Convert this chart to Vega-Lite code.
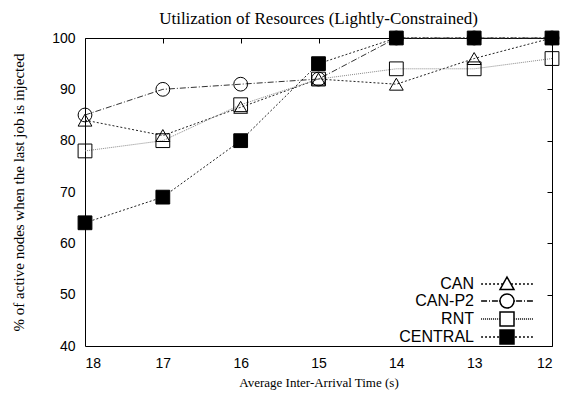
{
  "$schema": "https://vega.github.io/schema/vega-lite/v6.json",
  "width": 467,
  "height": 308,
  "autosize": "none",
  "padding": {"left": 85, "top": 38, "right": 14, "bottom": 50},
  "background": "white",
  "title": {"text": "Utilization of Resources (Lightly-Constrained)", "font": "Liberation Serif", "fontSize": 17, "fontWeight": "normal", "color": "black", "offset": 1},
  "config": {
    "view": {"stroke": "black", "strokeWidth": 1},
    "axis": {"grid": true, "gridColor": "black", "gridOpacity": 1, "gridWidth": 1, "gridDash": [5, 2000], "domain": false, "ticks": false, "labelFont": "Liberation Sans", "labelFontSize": 14, "labelColor": "black", "titleFont": "Liberation Serif", "titleFontSize": 13, "titleFontWeight": "normal", "titleColor": "black"}
  },
  "data": {"values": [
    {"x": 18, "v": 84, "s": "CAN"}, {"x": 17, "v": 81, "s": "CAN"}, {"x": 16, "v": 86.5, "s": "CAN"}, {"x": 15, "v": 92, "s": "CAN"}, {"x": 14, "v": 91, "s": "CAN"}, {"x": 13, "v": 96, "s": "CAN"}, {"x": 12, "v": 100, "s": "CAN"},
    {"x": 18, "v": 85, "s": "CAN-P2"}, {"x": 17, "v": 90, "s": "CAN-P2"}, {"x": 16, "v": 91, "s": "CAN-P2"}, {"x": 15, "v": 92, "s": "CAN-P2"}, {"x": 14, "v": 100, "s": "CAN-P2"}, {"x": 13, "v": 100, "s": "CAN-P2"}, {"x": 12, "v": 100, "s": "CAN-P2"},
    {"x": 18, "v": 78, "s": "RNT"}, {"x": 17, "v": 80, "s": "RNT"}, {"x": 16, "v": 87, "s": "RNT"}, {"x": 15, "v": 92, "s": "RNT"}, {"x": 14, "v": 94, "s": "RNT"}, {"x": 13, "v": 94, "s": "RNT"}, {"x": 12, "v": 96, "s": "RNT"},
    {"x": 18, "v": 64, "s": "CENTRAL"}, {"x": 17, "v": 69, "s": "CENTRAL"}, {"x": 16, "v": 80, "s": "CENTRAL"}, {"x": 15, "v": 95, "s": "CENTRAL"}, {"x": 14, "v": 100, "s": "CENTRAL"}, {"x": 13, "v": 100, "s": "CENTRAL"}, {"x": 12, "v": 100, "s": "CENTRAL"}
  ]},
  "encoding": {
    "x": {"field": "x", "type": "quantitative", "scale": {"domain": [12, 18], "reverse": true, "nice": false}},
    "y": {"field": "v", "type": "quantitative", "scale": {"domain": [40, 100], "nice": false}}
  },
  "resolve": {"axis": {"x": "independent", "y": "independent"}, "scale": {"shape": "independent"}},
  "layer": [
    {
      "transform": [{"filter": "datum.s == 'CAN'"}],
      "mark": {"type": "line", "strokeWidth": 1, "color": "#222222", "strokeDash": [2, 2]},
      "encoding": {
        "x": {"field": "x", "type": "quantitative", "axis": {"orient": "bottom", "values": [12,13,14,15,16,17,18], "labelPadding": 10, "title": "Average Inter-Arrival Time (s)", "titlePadding": 6}},
        "y": {"field": "v", "type": "quantitative", "axis": {"orient": "left", "values": [40,50,60,70,80,90,100], "labelPadding": 10, "title": "% of active nodes when the last job is injected", "titlePadding": 25, "titleFontSize": 15}}
      }
    },
    {
      "transform": [{"filter": "datum.s == 'CAN-P2'"}],
      "mark": {"type": "line", "strokeWidth": 1, "color": "#333333", "strokeDash": [6, 2, 1, 2]},
      "encoding": {
        "x": {"field": "x", "type": "quantitative", "axis": {"orient": "top", "values": [12,13,14,15,16,17,18], "labels": false, "title": null}},
        "y": {"field": "v", "type": "quantitative", "axis": {"orient": "right", "values": [40,50,60,70,80,90,100], "labels": false, "title": null}}
      }
    },
    {
      "transform": [{"filter": "datum.s == 'RNT'"}],
      "mark": {"type": "line", "strokeWidth": 1, "color": "#888888", "strokeDash": [1, 1]},
      "encoding": {"x": {"field": "x", "type": "quantitative", "axis": null}, "y": {"field": "v", "type": "quantitative", "axis": null}}
    },
    {
      "transform": [{"filter": "datum.s == 'CENTRAL'"}],
      "mark": {"type": "line", "strokeWidth": 1, "color": "#222222", "strokeDash": [2, 2]},
      "encoding": {"x": {"field": "x", "type": "quantitative", "axis": null}, "y": {"field": "v", "type": "quantitative", "axis": null}}
    },
    {
      "mark": {"type": "point", "size": 190, "strokeWidth": 1, "stroke": "black", "opacity": 1},
      "encoding": {
        "x": {"field": "x", "type": "quantitative", "axis": null},
        "y": {"field": "v", "type": "quantitative", "axis": null},
        "shape": {"field": "s", "type": "nominal", "scale": {"domain": ["CAN", "CAN-P2", "RNT", "CENTRAL"], "range": ["triangle-up", "circle", "square", "square"]}, "legend": null},
        "fill": {"field": "s", "type": "nominal", "scale": {"domain": ["CAN", "CAN-P2", "RNT", "CENTRAL"], "range": ["transparent", "transparent", "transparent", "black"]}, "legend": null}
      }
    },
    {
      "mark": {"type": "point", "size": 190, "strokeWidth": 1, "stroke": "black", "filled": false, "opacity": 0},
      "encoding": {
        "x": {"field": "x", "type": "quantitative", "axis": null},
        "y": {"field": "v", "type": "quantitative", "axis": null},
        "shape": {"field": "s", "type": "nominal", "scale": {"domain": ["CAN", "CAN-P2", "RNT", "CENTRAL"], "range": [
          "M-3.7,0L-3.43,0M-3.13,0L-2.86,0M-2.56,0L-2.29,0M-1.99,0L-1.71,0M-1.42,0L-1.14,0M-0.85,0L-0.6,0M0.6,0L0.85,0M1.14,0L1.42,0M1.71,0L1.99,0M2.29,0L2.56,0M2.86,0L3.13,0M3.43,0L3.7,0M0,-1L1,0.8L-1,0.8Z",
          "M-3.7,0L-2.85,0M-2.57,0L-2.43,0M-2.15,0L-1.3,0M-1.15,0L-1,0M1,0L1.15,0M1.3,0L2.15,0M2.43,0L2.57,0M2.85,0L3.7,0M1,0A1,1,0,1,1,-1,0A1,1,0,1,1,1,0Z",
          "M-3.7,0L-3.56,0M-3.41,0L-3.27,0M-3.13,0L-2.99,0M-2.84,0L-2.7,0M-2.56,0L-2.41,0M-2.27,0L-2.13,0M-1.99,0L-1.84,0M-1.7,0L-1.56,0M-1.41,0L-1.27,0M-1.13,0L-1,0M1,0L1.13,0M1.27,0L1.41,0M1.56,0L1.7,0M1.84,0L1.99,0M2.13,0L2.27,0M2.41,0L2.56,0M2.7,0L2.84,0M2.99,0L3.13,0M3.27,0L3.41,0M3.56,0L3.7,0M-1,-1L1,-1L1,1L-1,1Z",
          "M-3.7,0L-3.43,0M-3.13,0L-2.86,0M-2.56,0L-2.29,0M-1.99,0L-1.71,0M-1.42,0L-1.14,0M1.14,0L1.42,0M1.71,0L1.99,0M2.29,0L2.56,0M2.86,0L3.13,0M3.43,0L3.7,0M-1,-1L1,-1L1,1L-1,1ZM-1,-0.9L1,-0.9M-1,-0.8L1,-0.8M-1,-0.7L1,-0.7M-1,-0.6L1,-0.6M-1,-0.5L1,-0.5M-1,-0.4L1,-0.4M-1,-0.3L1,-0.3M-1,-0.2L1,-0.2M-1,-0.1L1,-0.1M-1,0L1,0M-1,0.1L1,0.1M-1,0.2L1,0.2M-1,0.3L1,0.3M-1,0.4L1,0.4M-1,0.5L1,0.5M-1,0.6L1,0.6M-1,0.7L1,0.7M-1,0.8L1,0.8M-1,0.9L1,0.9"
        ]}, "legend": {"title": null, "orient": "none", "legendX": 414, "legendY": 238, "padding": 0, "labelAlign": "right", "labelOffset": -41, "rowPadding": -6, "labelFont": "Liberation Sans", "labelFontSize": 16, "labelColor": "black", "symbolSize": 196, "symbolOpacity": 1, "encode": {"symbols": {"update": {"opacity": {"value": 1}, "stroke": {"value": "black"}, "strokeWidth": {"value": 1}, "fill": {"signal": "datum.value === 'CENTRAL' ? 'black' : 'transparent'"}}}}}}
      }
    }
  ]
}
